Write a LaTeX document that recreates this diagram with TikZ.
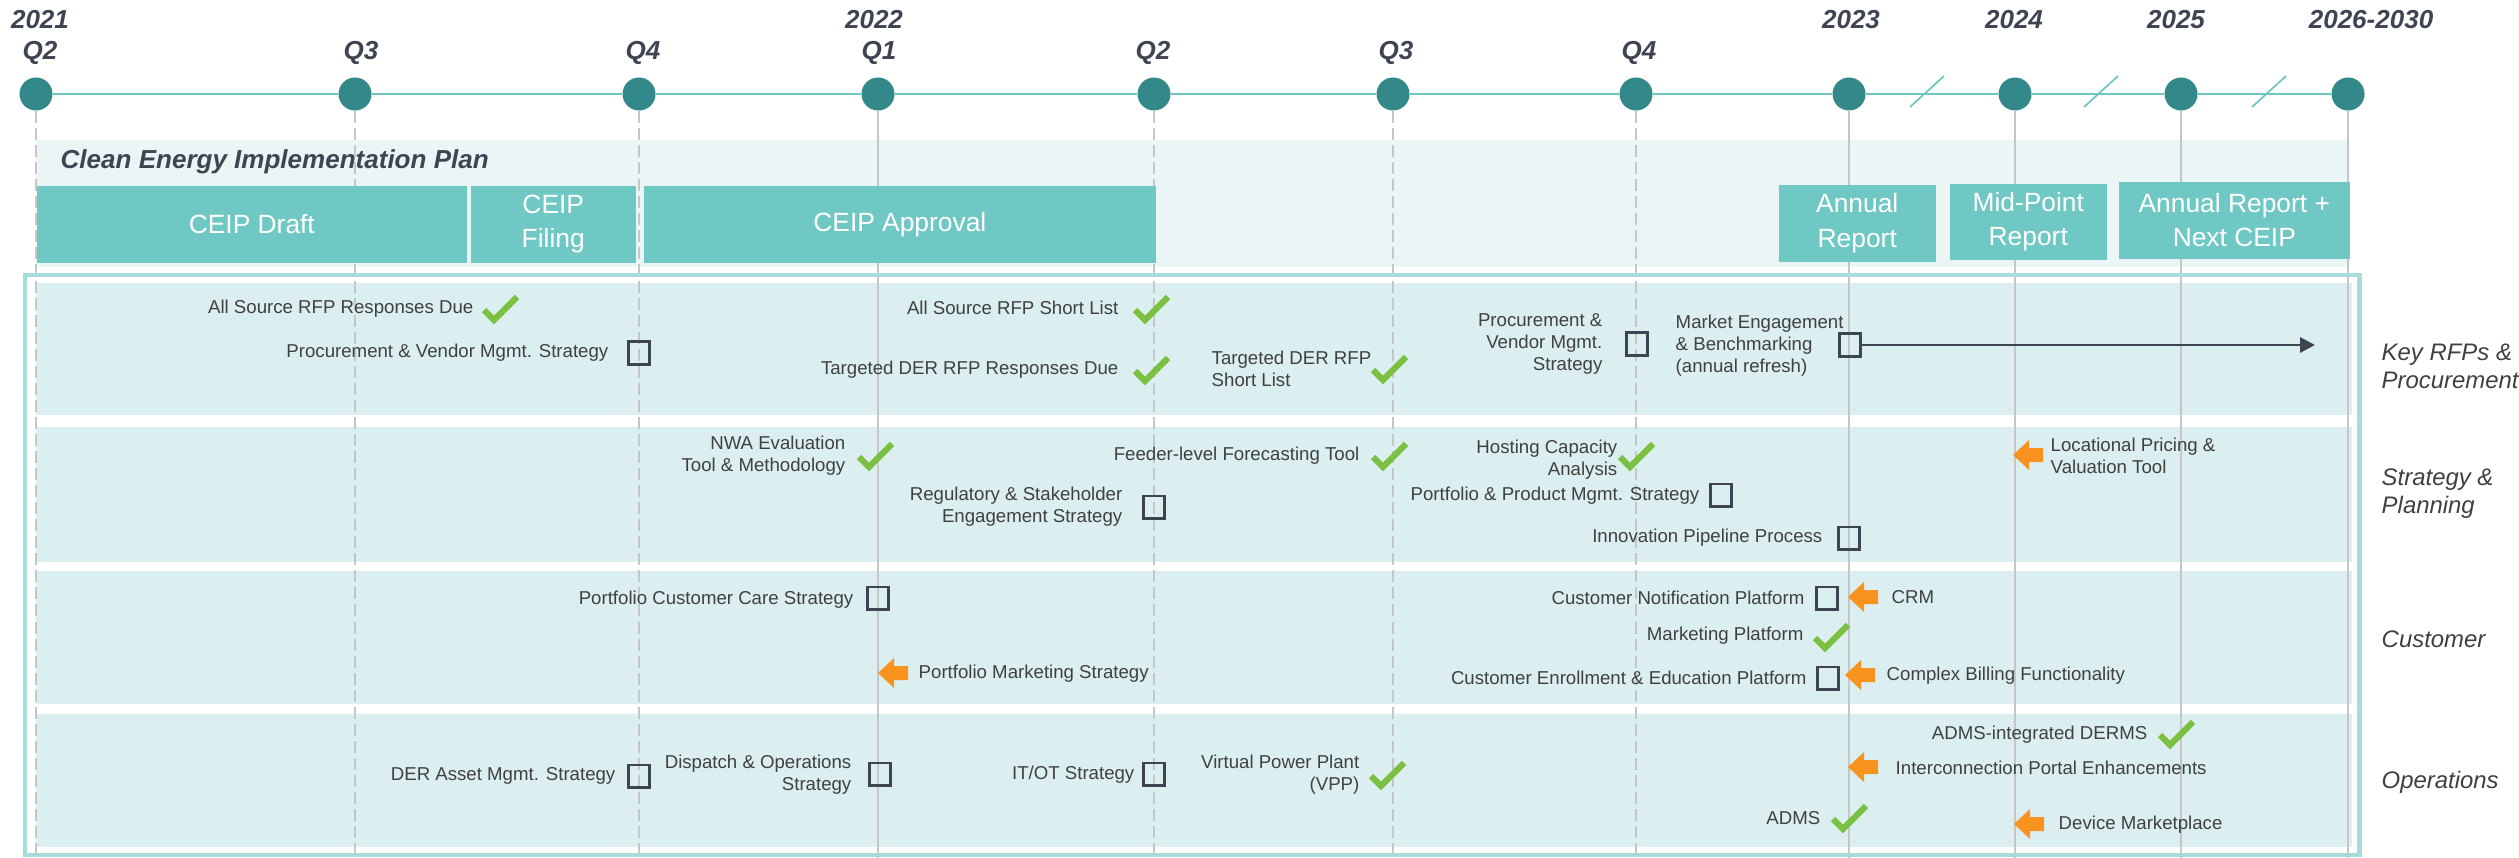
\documentclass[tikz,border=0pt]{standalone}
\usepackage{fontspec}
\setmainfont{Liberation Sans}
\usetikzlibrary{arrows.meta}

\definecolor{ink}{HTML}{404040}
\definecolor{slate}{HTML}{3E4451}
\definecolor{dotteal}{HTML}{33898A}
\definecolor{lineteal}{HTML}{6EC6C1}
\definecolor{boxteal}{HTML}{70C8C4}
\definecolor{bandteal}{HTML}{EAF6F6}
\definecolor{rowteal}{HTML}{DBEFF0}
\definecolor{frameteal}{HTML}{A7DCDD}
\definecolor{gridgray}{HTML}{C6C6C6}
\definecolor{done}{HTML}{7BC043}
\definecolor{shifted}{HTML}{F7931E}

\tikzset{
  dot/.style={circle,fill=dotteal,minimum size=0.33cm,inner sep=0pt},
  yr/.style={font=\fontsize{7.4}{9}\selectfont\bfseries\itshape,text=slate,inner sep=0pt},
  phase/.style={fill=boxteal,text=white,font=\fontsize{7.5}{9.8}\selectfont,align=center,anchor=north west,inner sep=0pt},
  lbl/.style={font=\fontsize{5.3}{6.3}\selectfont,text=ink,inner sep=0pt},
  area/.style={font=\fontsize{6.8}{8}\selectfont\itshape,text=ink,align=left,anchor=west,inner sep=0pt},
  todo/.style={draw=slate,line width=0.85pt,minimum width=0.21cm,minimum height=0.22cm,inner sep=0pt},
  qline/.style={gridgray,line width=0.55pt,dash pattern=on 0.12cm off 0.05cm},
  yline/.style={gridgray,line width=0.4pt},
  pics/chk/.style={code={\draw[done,line width=1.75pt] (-18,2) -- (-8,12) -- (15,-11);}},
  pics/moved/.style={code={\fill[shifted] (0,0) -- (16,-15) -- (16,-7) -- (30,-7) -- (30,7) -- (16,7) -- (16,15) -- cycle;}},
}

\begin{document}
\begin{tikzpicture}[x=0.01cm,y=-0.01cm]
  \useasboundingbox (0,0) rectangle (2519,858);

  \foreach \i/\x in {1/36,2/355,3/639,4/878,5/1154,6/1393,7/1636,8/1849,9/2015,10/2181,11/2348}
    \node[dot] (d\i) at (\x,94) {};
  \foreach \a/\b in {1/2,2/3,3/4,4/5,5/6,6/7,7/8,8/9,9/10,10/11}
    \draw[lineteal,line width=0.85pt] (d\a) -- (d\b);
  \foreach \x in {1927,2101,2269}
    \draw[lineteal,line width=0.5pt] (\x-17,107) -- (\x+17,76);

  \node[yr] (y21) at (40,20) {2021};
  \node[yr] (y22) at (874,20) {2022};
  \node[yr] (y23) at (1851,20) {2023};
  \node[yr] (y24) at (2014,20) {2024};
  \node[yr] (y25) at (2176,20) {2025};
  \node[yr] (y26) at (2371,20) {2026-2030};
  \node[yr] (q2a) at (40,53) {Q2};
  \node[yr] (q3a) at (361,53) {Q3};
  \node[yr] (q4a) at (643,53) {Q4};
  \node[yr] (q1b) at (879,53) {Q1};
  \node[yr] (q2b) at (1153,53) {Q2};
  \node[yr] (q3b) at (1396,53) {Q3};
  \node[yr] (q4b) at (1639,53) {Q4};

  \fill[bandteal] (36,140) rectangle (2349,267);
  \node[yr,anchor=west] (ceip) at (60,162) {Clean Energy Implementation Plan};

  \foreach \t/\b in {283/415,427/562,571/704,714/847}
    \fill[rowteal] (36,\t) rectangle (2352,\b);

  \coordinate (bot) at (0,858);
  \foreach \i in {1,2,3,5,6,7}
    \draw[qline] (d\i.south) -- (d\i |- bot);
  \foreach \i in {4,8,9,10,11}
    \draw[yline] (d\i.south) -- (d\i |- bot);

  \draw[frameteal,line width=1.4pt] (25,275) rectangle (2359,855);

  \node[phase,minimum width=4.30cm,minimum height=0.77cm] (draft) at (36,185) {CEIP Draft};
  \node[phase,minimum width=1.65cm,minimum height=0.77cm] (filing) at (470,185) {CEIP\\Filing};
  \node[phase,minimum width=5.12cm,minimum height=0.77cm] (approval) at (643,185) {CEIP Approval};
  \node[phase,minimum width=1.57cm,minimum height=0.77cm] (ar23) at (1778,184) {Annual\\Report};
  \node[phase,minimum width=1.57cm,minimum height=0.76cm] (mid) at (1949,183) {Mid-Point\\Report};
  \node[phase,minimum width=2.31cm,minimum height=0.77cm] (ar25) at (2118,181) {Annual Report +\\Next CEIP};

  % Key RFPs & Procurement
  \pic at (502,308) {chk};
  \node[lbl,anchor=east] (asdue) at (474,309) {All Source RFP Responses Due};
  \node[todo] (pvs) at (639,353) {};
  \node[lbl,anchor=east] (pvstxt) at (609,353) {Procurement \& Vendor Mgmt. Strategy};
  \pic at (1153,308) {chk};
  \node[lbl,anchor=east] (asshort) at (1119,308) {All Source RFP Short List};
  \pic at (1153,369) {chk};
  \node[lbl,anchor=east] (derdue) at (1119,370) {Targeted DER RFP Responses Due};
  \pic at (1391,368) {chk};
  \node[lbl,anchor=west,align=left] (dershort) at (1211,369) {Targeted DER RFP\\Short List};
  \node[todo] (pv) at (1637,344) {};
  \node[lbl,anchor=east,align=right] (pvtxt) at (1603,344) {Procurement \&\\Vendor Mgmt.\\Strategy};
  \node[todo] (mkt) at (1850,345) {};
  \node[lbl,anchor=west,align=left] (mkttxt) at (1675,346) {Market Engagement\\\& Benchmarking\\(annual refresh)};
  \coordinate (mktend) at (2315,345);
  \draw[slate,line width=0.85pt,-{Triangle[length=0.15cm,width=0.15cm]}] (mkt) -- (mktend);

  % Strategy & Planning
  \pic at (877,455) {chk};
  \node[lbl,anchor=east,align=right] (nwa) at (846,456) {NWA Evaluation\\Tool \& Methodology};
  \pic at (1391,455) {chk};
  \node[lbl,anchor=east] (feeder) at (1360,456) {Feeder-level Forecasting Tool};
  \node[todo] (reg) at (1154,507) {};
  \node[lbl,anchor=east,align=right] (regtxt) at (1123,507) {Regulatory \& Stakeholder\\Engagement Strategy};
  \pic at (1638,455) {chk};
  \node[lbl,anchor=east,align=right] (hosting) at (1618,460) {Hosting Capacity\\Analysis};
  \node[todo] (ppm) at (1721,495) {};
  \node[lbl,anchor=east] (ppmtxt) at (1700,496) {Portfolio \& Product Mgmt. Strategy};
  \node[todo] (pipe) at (1849,538) {};
  \node[lbl,anchor=east] (pipetxt) at (1823,538) {Innovation Pipeline Process};
  \pic at (2013,455) {moved};
  \node[lbl,anchor=west,align=left] (lmp) at (2050,456) {Locational Pricing \&\\Valuation Tool};

  % Customer
  \node[todo] (care) at (878,598) {};
  \node[lbl,anchor=east] (caretxt) at (854,600) {Portfolio Customer Care Strategy};
  \pic at (878,673) {moved};
  \node[lbl,anchor=west] (pms) at (918,674) {Portfolio Marketing Strategy};
  \node[todo] (notif) at (1827,598) {};
  \node[lbl,anchor=east] (notiftxt) at (1805,598) {Customer Notification Platform};
  \pic at (1848,597) {moved};
  \node[lbl,anchor=west] (crm) at (1891,597) {CRM};
  \pic at (1833,636) {chk};
  \node[lbl,anchor=east] (mktplat) at (1804,636) {Marketing Platform};
  \node[todo] (enrol) at (1828,678) {};
  \node[lbl,anchor=east] (enroltxt) at (1807,678) {Customer Enrollment \& Education Platform};
  \pic at (1845,675) {moved};
  \node[lbl,anchor=west] (billing) at (1886,676) {Complex Billing Functionality};

  % Operations
  \node[todo] (asset) at (639,776) {};
  \node[lbl,anchor=east] (assettxt) at (616,776) {DER Asset Mgmt. Strategy};
  \node[todo] (disp) at (880,774) {};
  \node[lbl,anchor=east,align=right] (disptxt) at (852,775) {Dispatch \& Operations\\Strategy};
  \node[todo] (itot) at (1154,774) {};
  \node[lbl,anchor=east] (itottxt) at (1135,775) {IT/OT Strategy};
  \pic at (1389,774) {chk};
  \node[lbl,anchor=east,align=right] (vpp) at (1360,775) {Virtual Power Plant\\(VPP)};
  \pic at (2178,733) {chk};
  \node[lbl,anchor=east] (derms) at (2148,735) {ADMS-integrated DERMS};
  \pic at (1848,767) {moved};
  \node[lbl,anchor=west] (portal) at (1895,768) {Interconnection Portal Enhancements};
  \pic at (1851,817) {chk};
  \node[lbl,anchor=east] (adms) at (1821,818) {ADMS};
  \pic at (2014,824) {moved};
  \node[lbl,anchor=west] (device) at (2058,825) {Device Marketplace};

  \node[area] (krp) at (2381,366) {Key RFPs \&\\Procurement};
  \node[area] (stp) at (2381,494) {Strategy \&\\Planning};
  \node[area] (cus) at (2381,639) {Customer};
  \node[area] (ops) at (2381,782) {Operations};
\end{tikzpicture}
\end{document}
